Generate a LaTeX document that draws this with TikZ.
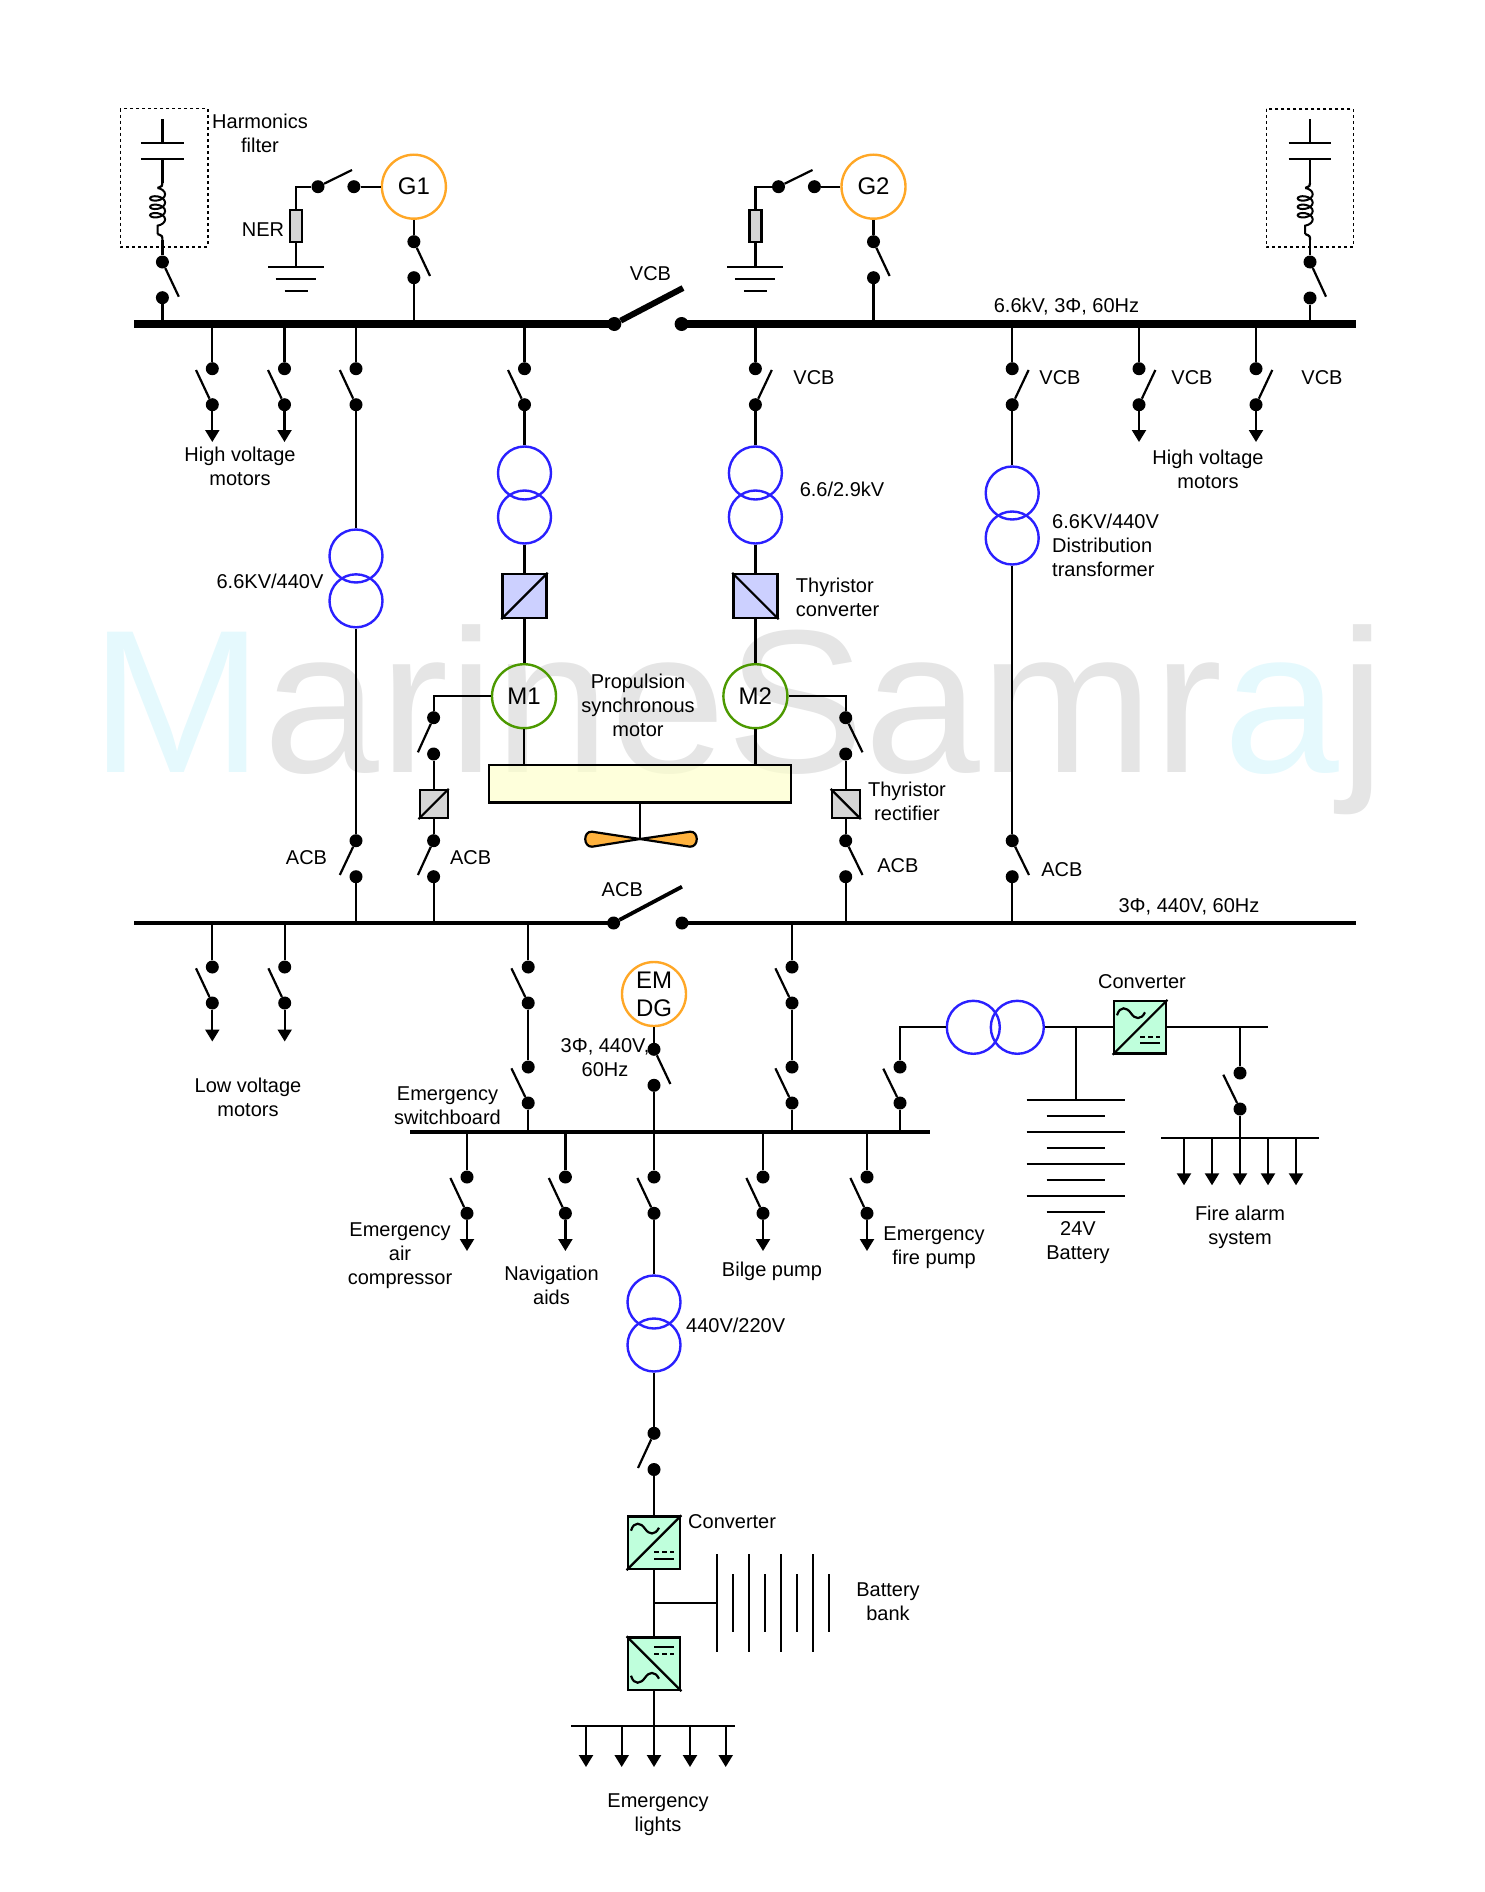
\documentclass[tikz,border=0pt]{standalone}
\usepackage{fontspec}
\setmainfont{Liberation Sans}
\usepackage{tikz}
\usetikzlibrary{calc,arrows.meta,decorations.pathmorphing}
\definecolor{ms@blue}{RGB}{42,32,255}
\definecolor{ms@orange}{RGB}{255,167,38}
\definecolor{ms@green}{RGB}{76,153,0}
\definecolor{ms@lilac}{RGB}{204,208,255}
\definecolor{ms@mint}{RGB}{191,255,220}
\definecolor{ms@yellow}{RGB}{253,255,204}
\definecolor{ms@grey}{RGB}{214,214,214}
\definecolor{ms@prop}{RGB}{255,178,62}
\definecolor{ms@markgrey}{RGB}{229,229,229}
\definecolor{ms@markcyan}{RGB}{229,249,253}
\tikzset{
  wire/.style={line width=2.2pt},
  mainbus/.style={line width=7.3pt},
  subbus/.style={line width=4.4pt},
  blade/.style={line width=2.2pt},
  thickblade/.style={line width=6pt},
  thinblade/.style={line width=3.8pt},
  load/.style={line width=2.2pt,-{Triangle[width=14pt,length=12pt]}},
  swdot/.style={circle,fill=black,inner sep=0pt,minimum size=13pt},
  lbl/.style={align=center,inner sep=0pt,font=\fontsize{20}{24}\selectfont},
  xfmr/.style={circle,draw=ms@blue,line width=2.4pt,inner sep=0pt,minimum size=53pt},
  gen/.style={circle,draw=ms@orange,line width=2.4pt,inner sep=0pt,minimum size=64pt,align=center,font=\fontsize{24}{28}\selectfont},
  mot/.style={circle,draw=ms@green,line width=2.4pt,inner sep=0pt,minimum size=64pt,font=\fontsize{24}{28}\selectfont},
  thyr/.style={rectangle,draw,fill=ms@lilac,line width=2.4pt,inner sep=0pt,minimum size=44pt},
  rect/.style={rectangle,draw,fill=ms@grey,line width=2.2pt,inner sep=0pt,minimum size=28pt},
  conv/.style={rectangle,draw,fill=ms@mint,line width=2.4pt,inner sep=0pt,minimum size=52.5pt},
  res/.style={rectangle,draw,fill=ms@grey,line width=2.2pt,inner sep=0pt,minimum width=12pt,minimum height=32pt},
  filterbox/.style={line width=1.6pt,dash pattern=on 3pt off 3pt},
  coilwire/.style={line width=2pt,decorate,decoration={coil,aspect=0.55,amplitude=7.5pt,segment length=8.4pt}},
}

\begin{document}
\begin{tikzpicture}[x=1pt,y=-1pt]
\useasboundingbox (0,0) rectangle (1484,1892);

% watermark
\node[anchor=base west,inner sep=0pt,font=\fontsize{204}{204}\selectfont] (mark) at (90,772.3)
  {\scalebox{1.02}[1]{\textcolor{ms@markcyan}{M}\textcolor{ms@markgrey}{arineSamr}\textcolor{ms@markcyan}{a}\textcolor{ms@markgrey}{j}}};

% main bus
\coordinate (busa) at (134,324);
\coordinate (busd) at (1356,324);
\node[swdot,minimum size=14pt] (vcbl) at (614.3,324) {};
\node[swdot,minimum size=14pt] (vcbr) at (681.6,324) {};
\coordinate (vcbk) at (683,288);
\draw[mainbus] (busa) -- (vcbl.center);
\draw[mainbus] (vcbr.center) -- (busd);
\draw[thickblade] (vcbl) -- (vcbk);
\node[lbl] (lbvcb) at (650.5,274) {VCB};
\node[lbl] (lbbus) at (1066.5,307) {6.6kV, 3Φ, 60Hz};

% harmonics filter, left
\draw[filterbox] (120.4,108.7) rectangle ++(87.4,138);
\draw[wire] (162.4,119.3) -- (162.4,142.7);
\draw[wire] (140.8,142.7) -- (183.7,142.7);
\draw[wire] (140.8,158.7) -- (183.7,158.7);
\draw[wire] (162.4,158.7) -- (162.4,183);
\draw[wire] (162.4,183) .. controls (162.4,186) .. (157.6,188);
\draw[coilwire] (157.6,188) -- (157.6,234);
\node[swdot] (hfla) at (162.4,262) {};
\node[swdot] (hflb) at (162.4,297.7) {};
\coordinate (hflk) at (178.8,296.7);
\draw[wire] (157.6,234) .. controls (162.4,236) .. (162.4,240);
\coordinate (hflw) at (162.4,240);
\draw[wire] (hflw) -- (hfla);
\draw[blade] (hfla) -- (hflk);
\draw[wire] (hflb) -- (hflb |- busa);
\node[lbl,align=center] (lbhf) at (260,133.3) {Harmonics\\filter};

% harmonics filter, right
\draw[filterbox] (1266.3,109) rectangle ++(87,138);
\draw[wire] (1310,119.3) -- (1310,142.7);
\draw[wire] (1288.7,142.7) -- (1331.3,142.7);
\draw[wire] (1288.7,158.7) -- (1331.3,158.7);
\draw[wire] (1310,158.7) -- (1310,183);
\draw[wire] (1310,183) .. controls (1310,186) .. (1305.2,188);
\draw[coilwire] (1305.2,188) -- (1305.2,234);
\node[swdot] (hfra) at (1310,262) {};
\node[swdot] (hfrb) at (1310,298) {};
\coordinate (hfrk) at (1326,296.7);
\draw[wire] (1305.2,234) .. controls (1310,236) .. (1310,240);
\coordinate (hfrw) at (1310,240);
\draw[wire] (hfrw) -- (hfra);
\draw[blade] (hfra) -- (hfrk);
\draw[wire] (hfrb) -- (hfrb |- busa);

% G1
\node[gen] (g1) at (413.9,186.7) {G1};
\node[swdot] (g1a) at (413.9,241.7) {};
\node[swdot] (g1b) at (413.9,277.7) {};
\coordinate (g1k) at (430,276);
\draw[wire] (g1) -- (g1a);
\draw[blade] (g1a) -- (g1k);
\draw[wire] (g1b) -- (g1b |- busa);
\node[swdot] (n1a) at (353.9,186.7) {};
\node[swdot] (n1b) at (318,186.7) {};
\coordinate (n1k) at (352,170);
\draw[wire] (g1) -- (n1a);
\draw[blade] (n1b) -- (n1k);
\node[res] (ner1) at (296,225.7) {};
\draw[wire] (n1b) -| (ner1);
\coordinate (gnd1) at (296,266.7);
\draw[wire] (ner1) -- (gnd1);
\draw[wire] (268,266.7) -- (323.7,266.7);
\draw[wire] (275.5,279) -- (315.5,279);
\draw[wire] (284.5,291) -- (308,291);
\node[lbl] (lbner) at (263,230) {NER};

% G2
\node[gen] (g2) at (873.5,186.7) {G2};
\node[swdot] (g2a) at (873.5,241.7) {};
\node[swdot] (g2b) at (873.5,277.7) {};
\coordinate (g2k) at (889.6,276);
\draw[wire] (g2) -- (g2a);
\draw[blade] (g2a) -- (g2k);
\draw[wire] (g2b) -- (g2b |- busa);
\node[swdot] (n2a) at (814.4,186.7) {};
\node[swdot] (n2b) at (778.5,186.7) {};
\coordinate (n2k) at (812.5,170);
\draw[wire] (g2) -- (n2a);
\draw[blade] (n2b) -- (n2k);
\node[res] (ner2) at (755.4,225.7) {};
\draw[wire] (n2b) -| (ner2);
\coordinate (gnd2) at (755.4,266.7);
\draw[wire] (ner2) -- (gnd2);
\draw[wire] (727.4,266.7) -- (783.1,266.7);
\draw[wire] (734.9,279) -- (774.9,279);
\draw[wire] (743.9,291) -- (767.4,291);

% high voltage motors, left
\node[swdot] (hv1a) at (212.3,368.7) {};
\node[swdot] (hv1b) at (212.3,404.7) {};
\coordinate (hv1k) at (196,370);
\coordinate (hv1t) at (212.3,442);
\draw[wire] (hv1a) -- (hv1a |- busa);
\draw[blade] (hv1b) -- (hv1k);
\draw[load] (hv1b) -- (hv1t);
\node[swdot] (hv2a) at (284.5,368.7) {};
\node[swdot] (hv2b) at (284.5,404.7) {};
\coordinate (hv2k) at (268,370);
\coordinate (hv2t) at (284.5,442);
\draw[wire] (hv2a) -- (hv2a |- busa);
\draw[blade] (hv2b) -- (hv2k);
\draw[load] (hv2b) -- (hv2t);
\node[lbl] (lbhvl) at (240,466) {High voltage\\motors};

% high voltage motors, right
\node[swdot] (hv3a) at (1139,368.7) {};
\node[swdot] (hv3b) at (1139,404.7) {};
\coordinate (hv3k) at (1155.4,370);
\coordinate (hv3t) at (1139,442);
\draw[wire] (hv3a) -- (hv3a |- busa);
\draw[blade] (hv3b) -- (hv3k);
\draw[load] (hv3b) -- (hv3t);
\node[swdot] (hv4a) at (1256,368.7) {};
\node[swdot] (hv4b) at (1256,404.7) {};
\coordinate (hv4k) at (1272.3,370);
\coordinate (hv4t) at (1256,442);
\draw[wire] (hv4a) -- (hv4a |- busa);
\draw[blade] (hv4b) -- (hv4k);
\draw[load] (hv4b) -- (hv4t);
\node[lbl] (lbvcbd) at (1192,377.5) {VCB};
\node[lbl] (lbvcbe) at (1322,377.5) {VCB};
\node[lbl] (lbhvr) at (1208,469.7) {High voltage\\motors};

% second bus
\coordinate (bwa) at (134,923);
\coordinate (bwd) at (1356,923);
\node[swdot] (acbl) at (613.6,923) {};
\node[swdot] (acbr) at (682,923) {};
\coordinate (acbk) at (682,886.7);
\draw[subbus] (bwa) -- (acbl.center);
\draw[subbus] (acbr.center) -- (bwd);
\draw[thinblade] (acbl) -- (acbk);
\node[lbl] (lbacb) at (622.3,889.5) {ACB};
\node[lbl] (lbbw) at (1189,907) {3Φ, 440V, 60Hz};

% left feeder
\node[swdot] (tla) at (356,368.7) {};
\node[swdot] (tlb) at (356,404.7) {};
\coordinate (tlk) at (339.8,370);
\node[xfmr] (tl1) at (356,556) {};
\node[xfmr] (tl2) at (356,600.8) {};
\node[swdot] (tlc) at (356,840.7) {};
\node[swdot] (tld) at (356,876.7) {};
\coordinate (tlm) at (339.8,875);
\draw[wire] (tla) -- (tla |- busa);
\draw[blade] (tlb) -- (tlk);
\draw[wire] (tlb) -- (tl1);
\draw[wire] (tl2) -- (tlc);
\draw[blade] (tlc) -- (tlm);
\draw[wire] (tld) -- (tld |- bwa);
\node[lbl] (lbtl) at (270,581.3) {6.6KV/440V};
\node[lbl] (lbacbl) at (306.5,857.6) {ACB};

% M1
\node[swdot] (m1a) at (524.5,368.7) {};
\node[swdot] (m1b) at (524.5,404.7) {};
\coordinate (m1k) at (508,370);
\node[xfmr] (m1t) at (524.5,473) {};
\node[xfmr] (m1u) at (524.5,517) {};
\node[thyr] (m1c) at (524.5,596) {};
\node[mot] (m1) at (524,696.2) {M1};
\draw[wire] (m1a) -- (m1a |- busa);
\draw[blade] (m1b) -- (m1k);
\draw[wire] (m1b) -- (m1t);
\draw[wire] (m1u) -- (m1c);
\draw[wire] (m1c) -- (m1c |- m1.north);
\draw[wire] (m1c.south west) -- (m1c.north east);

% M2
\node[swdot] (m2a) at (755.4,368.7) {};
\node[swdot] (m2b) at (755.4,404.7) {};
\coordinate (m2k) at (771.8,370);
\node[xfmr] (m2t) at (755.4,473) {};
\node[xfmr] (m2u) at (755.4,517) {};
\node[thyr] (m2c) at (755.4,596) {};
\node[mot] (m2) at (755.4,696.2) {M2};
\draw[wire] (m2a) -- (m2a |- busa);
\draw[blade] (m2b) -- (m2k);
\draw[wire] (m2b) -- (m2t);
\draw[wire] (m2u) -- (m2c);
\draw[wire] (m2c) -- (m2);
\draw[wire] (m2c.north west) -- (m2c.south east);
\node[lbl] (lbvcbb) at (814,377.5) {VCB};
\node[lbl] (lbtm) at (842,489.6) {6.6/2.9kV};
\node[lbl,anchor=west,align=left] (lbtc) at (795.7,597) {Thyristor\\converter};
\node[lbl] (lbpm) at (638,705.3) {Propulsion\\synchronous\\motor};

% gear and propeller
\node[draw,fill=ms@yellow,fill opacity=0.7,line width=2.4pt,inner sep=0pt,minimum width=302pt,minimum height=37.5pt] (gear) at (639.8,783.9) {};
\draw[wire] (m1) -- (m1 |- gear.north);
\draw[wire] (m2) -- (m2 |- gear.north);
\coordinate (hub) at (640,839);
\draw[wire] (gear.south -| hub) -- (hub);
\draw[wire,fill=ms@prop] (hub) -- (592,831.7) .. controls (583,831) and (583,847) .. (592,846.7) -- cycle;
\draw[wire,fill=ms@prop] (hub) -- (690,831.7) .. controls (699,831) and (699,847) .. (690,846.7) -- cycle;

% thyristor rectifier, left
\node[swdot] (rla) at (433.6,717.7) {};
\node[swdot] (rlb) at (433.6,754) {};
\coordinate (rlk) at (417.9,752.3);
\node[rect] (rlc) at (433.6,804) {};
\node[swdot] (rld) at (433.6,840.7) {};
\node[swdot] (rle) at (433.6,876.7) {};
\coordinate (rlm) at (417.9,875);
\draw[wire] (m1) -| (rla);
\draw[blade] (rla) -- (rlk);
\draw[wire] (rlb) -- (rlc);
\draw[wire] (rlc) -- (rld);
\draw[wire] (rlc.south west) -- (rlc.north east);
\draw[blade] (rld) -- (rlm);
\draw[wire] (rle) -- (rle |- bwa);
\node[lbl] (lbacbm) at (470.6,858) {ACB};

% thyristor rectifier, right
\node[swdot] (rra) at (845.7,717.7) {};
\node[swdot] (rrb) at (845.7,754) {};
\coordinate (rrk) at (862.5,752.3);
\node[rect] (rrc) at (845.7,804) {};
\node[swdot] (rrd) at (845.7,840.7) {};
\node[swdot] (rre) at (845.7,876.7) {};
\coordinate (rrm) at (862.5,875);
\draw[wire] (m2) -| (rra);
\draw[blade] (rra) -- (rrk);
\draw[wire] (rrb) -- (rrc);
\draw[wire] (rrc) -- (rrd);
\draw[wire] (rrc.north west) -- (rrc.south east);
\draw[blade] (rrd) -- (rrm);
\draw[wire] (rre) -- (rre |- bwa);
\node[lbl] (lbtr) at (907,801.3) {Thyristor\\rectifier};
\node[lbl] (lbacbn) at (897.9,866) {ACB};

% distribution transformer
\node[swdot] (tra) at (1012.2,368.7) {};
\node[swdot] (trb) at (1012.2,404.7) {};
\coordinate (trk) at (1028.6,370);
\node[xfmr] (tr1) at (1012.2,493) {};
\node[xfmr] (tr2) at (1012.2,538) {};
\node[swdot] (trc) at (1012.2,840.7) {};
\node[swdot] (trd) at (1012.2,876.7) {};
\coordinate (trm) at (1029,875);
\draw[wire] (tra) -- (tra |- busa);
\draw[blade] (trb) -- (trk);
\draw[wire] (trb) -- (tr1);
\draw[wire] (tr2) -- (trc);
\draw[blade] (trc) -- (trm);
\draw[wire] (trd) -- (trd |- bwa);
\node[lbl] (lbvcbc) at (1060,377.5) {VCB};
\node[lbl,anchor=west,align=left] (lbtd) at (1052,545.3) {6.6KV/440V\\Distribution\\transformer};
\node[lbl] (lbacbo) at (1061.8,869.7) {ACB};

% low voltage motors
\node[swdot] (lv1a) at (212.3,967) {};
\node[swdot] (lv1b) at (212.3,1003) {};
\coordinate (lv1k) at (196,968.3);
\coordinate (lv1t) at (212.3,1041.5);
\draw[wire] (lv1a) -- (lv1a |- bwa);
\draw[blade] (lv1b) -- (lv1k);
\draw[load] (lv1b) -- (lv1t);
\node[swdot] (lv2a) at (284.7,967) {};
\node[swdot] (lv2b) at (284.7,1003) {};
\coordinate (lv2k) at (268.4,968.3);
\coordinate (lv2t) at (284.7,1041.5);
\draw[wire] (lv2a) -- (lv2a |- bwa);
\draw[blade] (lv2b) -- (lv2k);
\draw[load] (lv2b) -- (lv2t);
\node[lbl] (lblv) at (248,1097) {Low voltage\\motors};

% emergency switchboard
\coordinate (ema) at (410.4,1132);
\coordinate (emd) at (930,1132);
\draw[subbus] (ema) -- (emd);
\node[lbl] (lbem) at (447.5,1105.3) {Emergency\\switchboard};

% tie feeders
\node[swdot] (ti1a) at (528.2,967) {};
\node[swdot] (ti1b) at (528.2,1003) {};
\coordinate (ti1k) at (511.4,968.3);
\node[swdot] (ti1c) at (528.2,1067) {};
\node[swdot] (ti1d) at (528.2,1103) {};
\coordinate (ti1m) at (511.4,1068.3);
\draw[wire] (ti1a) -- (ti1a |- bwa);
\draw[blade] (ti1b) -- (ti1k);
\draw[wire] (ti1b) -- (ti1c);
\draw[blade] (ti1d) -- (ti1m);
\draw[wire] (ti1d) -- (ti1d |- ema);
\node[swdot] (ti2a) at (792,967) {};
\node[swdot] (ti2b) at (792,1003) {};
\coordinate (ti2k) at (775.4,968.3);
\node[swdot] (ti2c) at (792,1067) {};
\node[swdot] (ti2d) at (792,1103) {};
\coordinate (ti2m) at (775.4,1068.3);
\draw[wire] (ti2a) -- (ti2a |- bwa);
\draw[blade] (ti2b) -- (ti2k);
\draw[wire] (ti2b) -- (ti2c);
\draw[blade] (ti2d) -- (ti2m);
\draw[wire] (ti2d) -- (ti2d |- ema);

% EM DG
\node[gen] (emdg) at (654,994) {EM\\DG};
\node[swdot] (ega) at (654,1049.3) {};
\node[swdot] (egb) at (654,1085.3) {};
\coordinate (egk) at (670.4,1084);
\draw[wire] (emdg) -- (ega);
\draw[blade] (ega) -- (egk);
\draw[wire] (egb) -- (egb |- ema);
\node[lbl] (lbeg) at (605,1057.5) {3Φ, 440V,\\60Hz};

% emergency loads
\node[swdot] (el1a) at (467,1177) {};
\node[swdot] (el1b) at (467,1213.3) {};
\coordinate (el1k) at (450.4,1178);
\coordinate (el1t) at (467,1251);
\draw[wire] (el1a) -- (el1a |- ema);
\draw[blade] (el1b) -- (el1k);
\draw[load] (el1b) -- (el1t);
\node[swdot] (el2a) at (565.4,1177) {};
\node[swdot] (el2b) at (565.4,1213.3) {};
\coordinate (el2k) at (548.8,1178);
\coordinate (el2t) at (565.4,1251);
\draw[wire] (el2a) -- (el2a |- ema);
\draw[blade] (el2b) -- (el2k);
\draw[load] (el2b) -- (el2t);
\node[swdot] (el3a) at (763,1177) {};
\node[swdot] (el3b) at (763,1213.3) {};
\coordinate (el3k) at (746.4,1178);
\coordinate (el3t) at (763,1251);
\draw[wire] (el3a) -- (el3a |- ema);
\draw[blade] (el3b) -- (el3k);
\draw[load] (el3b) -- (el3t);
\node[swdot] (el4a) at (867,1177) {};
\node[swdot] (el4b) at (867,1213.3) {};
\coordinate (el4k) at (850.4,1178);
\coordinate (el4t) at (867,1251);
\draw[wire] (el4a) -- (el4a |- ema);
\draw[blade] (el4b) -- (el4k);
\draw[load] (el4b) -- (el4t);
\node[lbl] (lbel1) at (400,1255.5) {Emergency\\air\\compressor};
\node[lbl] (lbel2) at (551.5,1285.3) {Navigation\\aids};
\node[lbl] (lbel3) at (772,1271) {Bilge pump};
\node[lbl] (lbel4) at (934,1247.5) {Emergency\\fire pump};

% central feeder
\node[swdot] (cfa) at (654,1177) {};
\node[swdot] (cfb) at (654,1213.3) {};
\coordinate (cfk) at (637.4,1178);
\node[xfmr] (cf1) at (654,1302) {};
\node[xfmr] (cf2) at (654,1345) {};
\node[swdot] (cfc) at (654,1433.3) {};
\node[swdot] (cfd) at (654,1469.5) {};
\coordinate (cfm) at (638,1468);
\draw[wire] (cfa) -- (cfa |- ema);
\draw[blade] (cfb) -- (cfk);
\draw[wire] (cfb) -- (cf1);
\draw[wire] (cf2) -- (cfc);
\draw[blade] (cfc) -- (cfm);
\node[lbl] (lbcf) at (735.7,1325) {440V/220V};

% converters and battery bank
\begin{scope}[shift={(654,1542.7)}]
  \node[conv] (cvb) at (0,0) {};
  \draw[wire] (cvb.south west) -- (cvb.north east);
  \draw[wire] (-23,-12) .. controls (-20,-22) and (-13,-20) .. (-9,-14) .. controls (-5,-8) and (1,-7) .. (5,-15);
  \draw[wire,dash pattern=on 5pt off 3pt] (0,9.3) -- (20,9.3);
  \draw[wire] (0,16) -- (20,16);
\end{scope}
\begin{scope}[shift={(654,1663.7)}]
  \node[conv] (cvc) at (0,0) {};
  \draw[wire] (cvc.north west) -- (cvc.south east);
  \draw[wire] (-23,12) .. controls (-20,22) and (-13,20) .. (-9,14) .. controls (-5,8) and (1,7) .. (5,15);
  \draw[wire,dash pattern=on 5pt off 3pt] (0,-10) -- (20,-10);
  \draw[wire] (0,-16.7) -- (20,-16.7);
\end{scope}
\draw[wire] (cfd) -- (cvb);
\draw[wire] (cvb) -- (cvc);
\node[lbl,anchor=west] (lbcvb) at (688,1521.3) {Converter};
\coordinate (bbj) at (654,1603);
\coordinate (bbk) at (716.7,1603);
\draw[wire] (bbj) -- (bbk);
\draw[wire] (716.7,1554) -- (716.7,1652);
\draw[wire] (732.7,1574) -- (732.7,1632);
\draw[wire] (748.7,1554) -- (748.7,1652);
\draw[wire] (764.7,1574) -- (764.7,1632);
\draw[wire] (780.7,1554) -- (780.7,1652);
\draw[wire] (796.7,1574) -- (796.7,1632);
\draw[wire] (812.7,1554) -- (812.7,1652);
\draw[wire] (828.7,1574) -- (828.7,1632);
\node[lbl] (lbbb) at (888,1602) {Battery\\bank};

% emergency lights
\coordinate (lta) at (571,1726);
\coordinate (ltd) at (735,1726);
\draw[wire] (lta) -- (ltd);
\draw[wire] (cvc) -- (cvc |- lta);
\coordinate (lt1a) at (586,1726);
\coordinate (lt1t) at (586,1767);
\coordinate (lt2a) at (621.7,1726);
\coordinate (lt2t) at (621.7,1767);
\coordinate (lt3a) at (654,1726);
\coordinate (lt3t) at (654,1767);
\coordinate (lt4a) at (690,1726);
\coordinate (lt4t) at (690,1767);
\coordinate (lt5a) at (725.7,1726);
\coordinate (lt5t) at (725.7,1767);
\draw[load] (lt1a) -- (lt1t);
\draw[load] (lt2a) -- (lt2t);
\draw[load] (lt3a) -- (lt3t);
\draw[load] (lt4a) -- (lt4t);
\draw[load] (lt5a) -- (lt5t);
\node[lbl] (lblt) at (658,1815) {Emergency\\lights};

% 24V supply
\node[swdot] (dca) at (900,1067) {};
\node[swdot] (dcb) at (900,1103) {};
\coordinate (dck) at (883.3,1068.7);
\draw[wire] (dcb) -- (dcb |- ema);
\draw[blade] (dcb) -- (dck);
\node[xfmr] (dc1) at (973.3,1027.3) {};
\node[xfmr] (dc2) at (1017.3,1027.3) {};
\draw[wire] (dca) |- (dc1);
\node[conv] (cva) at (1140,1027.3) {};
\draw[wire] (dc2) -- (cva);
\draw[wire] (cva.south west) -- (cva.north east);
\draw[wire] (1117,1015.3) .. controls (1120,1005.3) and (1127,1007.3) .. (1131,1013.3) .. controls (1135,1019.3) and (1141,1020.3) .. (1145,1012.3);
\draw[wire,dash pattern=on 5pt off 3pt] (1140,1036.6) -- (1160,1036.6);
\draw[wire] (1140,1043.3) -- (1160,1043.3);
\node[lbl] (lbcva) at (1142,982) {Converter};
\coordinate (batj) at (1076,1027.3);
\coordinate (batk) at (1076,1100);
\draw[wire] (batj) -- (batk);
\draw[wire] (1026.7,1100) -- (1125.3,1100);
\draw[wire] (1046.7,1115.7) -- (1105.3,1115.7);
\draw[wire] (1026.7,1132) -- (1125.3,1132);
\draw[wire] (1046.7,1148) -- (1105.3,1148);
\draw[wire] (1026.7,1164) -- (1125.3,1164);
\draw[wire] (1046.7,1180) -- (1105.3,1180);
\draw[wire] (1026.7,1196) -- (1125.3,1196);
\draw[wire] (1046.7,1212) -- (1105.3,1212);
\node[lbl] (lbbat) at (1078,1243) {24V\\Battery};

% fire alarm
\coordinate (fae) at (1268.3,1027.3);
\draw[wire] (cva) -- (fae);
\node[swdot] (faa) at (1240,1073) {};
\node[swdot] (fab) at (1240,1109) {};
\coordinate (fak) at (1223.3,1074.7);
\draw[wire] (faa) -- (faa |- fae);
\draw[blade] (fab) -- (fak);
\coordinate (fba) at (1161,1138);
\coordinate (fbd) at (1319,1138);
\draw[wire] (fba) -- (fbd);
\draw[wire] (fab) -- (fab |- fba);
\coordinate (fa1a) at (1184,1138);
\coordinate (fa1t) at (1184,1185.3);
\coordinate (fa2a) at (1212,1138);
\coordinate (fa2t) at (1212,1185.3);
\coordinate (fa3a) at (1240,1138);
\coordinate (fa3t) at (1240,1185.3);
\coordinate (fa4a) at (1268,1138);
\coordinate (fa4t) at (1268,1185.3);
\coordinate (fa5a) at (1296,1138);
\coordinate (fa5t) at (1296,1185.3);
\draw[load] (fa1a) -- (fa1t);
\draw[load] (fa2a) -- (fa2t);
\draw[load] (fa3a) -- (fa3t);
\draw[load] (fa4a) -- (fa4t);
\draw[load] (fa5a) -- (fa5t);
\node[lbl] (lbfa) at (1240,1227.3) {Fire alarm\\system};

\end{tikzpicture}
\end{document}
